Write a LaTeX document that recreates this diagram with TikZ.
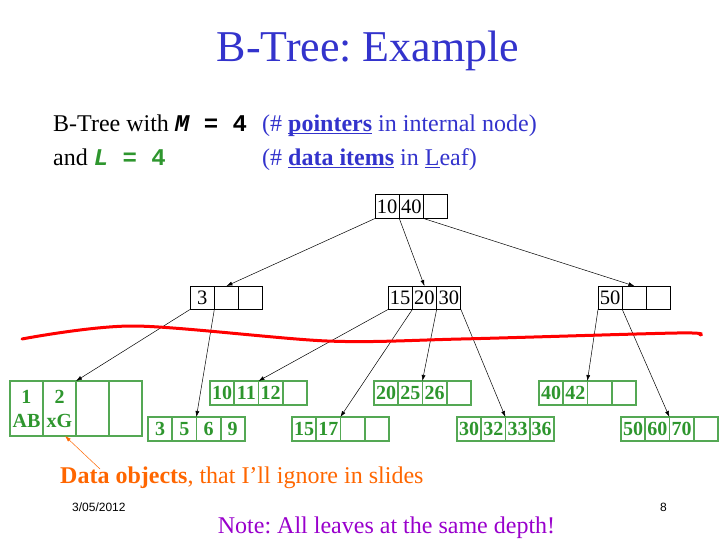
\documentclass[tikz,border=0pt]{standalone}
\usepackage{fontspec}
\setmainfont{Liberation Serif}
\setsansfont{Liberation Sans}
\setmonofont{Liberation Mono}
\usetikzlibrary{arrows.meta}
\definecolor{title-blue}{RGB}{51,51,204}
\definecolor{key-green}{RGB}{46,150,46}
\definecolor{leaf-green}{RGB}{84,168,84}
\definecolor{note-orange}{RGB}{255,102,0}
\definecolor{note-purple}{RGB}{153,0,204}
\newcommand{\uword}[1]{\underline{\smash{#1}}}
\frenchspacing

\tikzset{
    cell/.style={draw, rectangle, inner sep=0pt, outer sep=0pt, anchor=north west, minimum width=24.3pt, minimum height=23.5pt, line width=1pt, font=\fontsize{20.5}{20.5}\selectfont},
    leafcell/.style={cell, draw=leaf-green, text=key-green, line width=1.8pt, minimum width=24.2pt, minimum height=24pt, font=\fontsize{20}{24}\selectfont\bfseries},
    ptr/.style={-{Latex[length=6pt,width=4pt]}, line width=0.5pt},
    txt/.style={inner sep=0pt, anchor=base west, font=\fontsize{24}{24}\selectfont},
}

\begin{document}
\begin{tikzpicture}[x=1pt, y=-1pt]
    \useasboundingbox (0,0) rectangle (720,540);

    \node[txt, anchor=base, text=title-blue, font=\fontsize{44}{44}\selectfont] (title) at (368,62) {B-Tree: Example};
    \node[txt] (lineM) at (53,132) {B-Tree with \texttt{\bfseries{\itshape M} = 4}};
    \node[txt, text=title-blue] (noteM) at (262,132) {(\# \uword{\textbf{pointers}} in internal node)};
    \node[txt] (lineL) at (53,166) {and \textcolor{key-green}{\texttt{\bfseries{\itshape L} = 4}}};
    \node[txt, text=title-blue] (noteL) at (262,166) {(\# \uword{\textbf{data items}} in \uword{L}eaf)};

    % internal nodes
    \foreach \nm/\x/\y/\keys in {root/375/195/{10,40,{}}, in1/190/286/{3,{},{}}, in2/388/286/{15,20,30}, in3/598/286/{50,{},{}}}
        \foreach \k [count=\i] in \keys
            \node[cell] (\nm-\i) at ({\x+(\i-1)*24.3},\y) {\k};

    % leaves
    \foreach \k [count=\i] in {{1\\AB},{2\\xG},{},{}}
        \node[leafcell, minimum width=33pt, minimum height=55pt, align=center] (leaf1-\i) at ({10+(\i-1)*33},381) {\k};
    \foreach \nm/\x/\y/\keys in {leaf2/148/417/{3,5,6,9}, leaf3/210/381/{10,11,12,{}}, leaf4/292/417/{15,17,{},{}}, leaf5/374/381/{20,25,26,{}}, leaf6/457/417/{30,32,33,36}, leaf7/539/381/{40,42,{},{}}, leaf8/621/417/{50,60,70,{}}}
        \foreach \k [count=\i] in \keys
            \node[leafcell] (\nm-\i) at ({\x+(\i-1)*24.2},\y) {\k};

    \draw[ptr] (root-1.south west) -- (in1-2.north);
    \draw[ptr] (root-1.south east) -- (in2-2.north);
    \draw[ptr] (root-2.south east) -- (in3-2.north);
    \draw[ptr] (in1-1.south west) -- (leaf1-2.north east);
    \draw[ptr] (in1-1.south east) -- (leaf2-2.north east);
    \draw[ptr] (in2-1.south west) -- (leaf3-2.north east);
    \draw[ptr] (in2-1.south east) -- (leaf4-2.north east);
    \draw[ptr] (in2-2.south east) -- (leaf5-2.north east);
    \draw[ptr] (in2-3.south east) -- (leaf6-2.north east);
    \draw[ptr] (in3-1.south west) -- (leaf7-2.north east);
    \draw[ptr] (in3-1.south east) -- (leaf8-2.north east);

    % hand-drawn depth line
    \draw[red, line width=3pt, line cap=round] plot[smooth] coordinates {(22,339) (134,326) (327,341) (461,339) (677,333) (700,335)};

    \node[txt, text=note-orange] (dataNote) at (60,483) {\textbf{Data objects}, that I’ll ignore in slides};
    \coordinate (dataTail) at (100,469);
    \draw[ptr, note-orange] (dataTail) -- ([xshift=5.5pt]leaf1-2.south);

    \node[txt, font=\sffamily\fontsize{12}{12}\selectfont] (date) at (72,511) {3/05/2012};
    \node[txt, anchor=base east, font=\sffamily\fontsize{12}{12}\selectfont] (page) at (667,511) {8};
    \node[txt, anchor=base, text=note-purple] (depthNote) at (386.5,533) {Note: All leaves at the same depth!};
\end{tikzpicture}
\end{document}
